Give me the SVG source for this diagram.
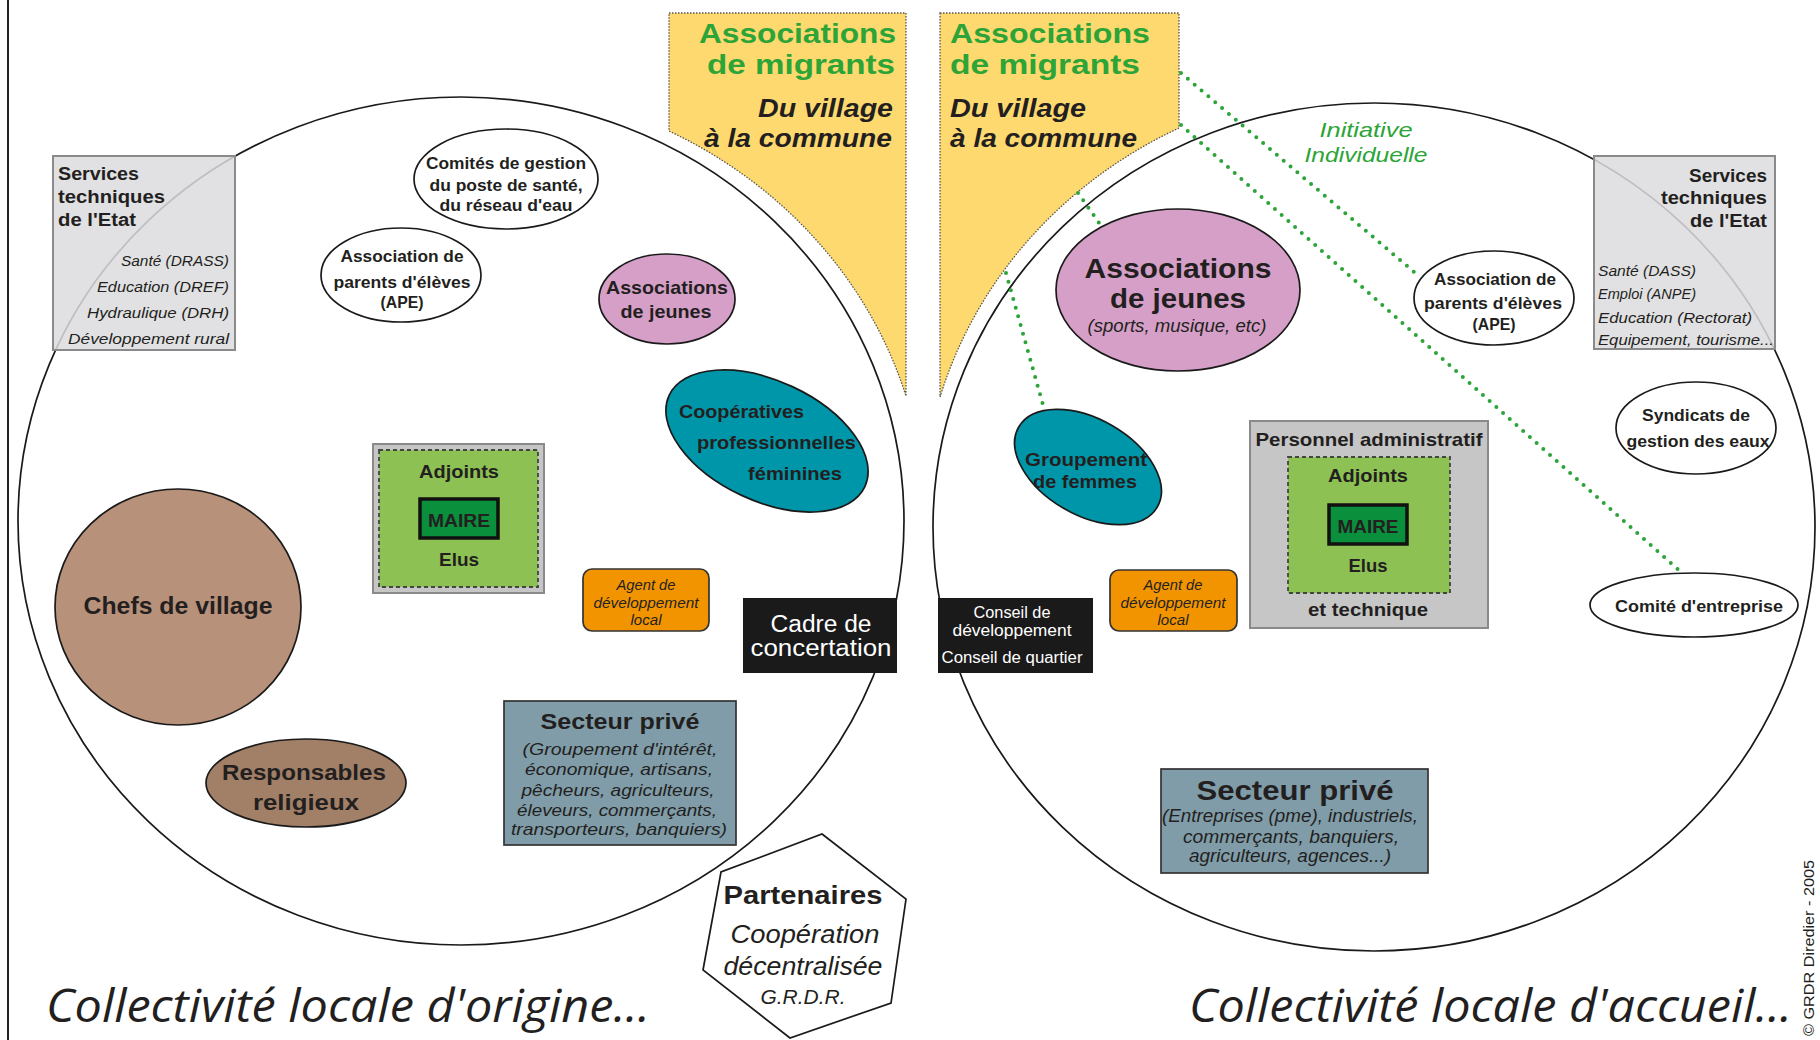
<svg xmlns="http://www.w3.org/2000/svg" width="1820" height="1040" viewBox="0 0 1820 1040">
<style>
text { font-family: "Liberation Sans", Arial, sans-serif; fill: #231f20; }
.b { font-weight: bold; }
.i { font-style: italic; }
.m { text-anchor: middle; }
.e { text-anchor: end; }
.w { fill: #ffffff; }
.g { fill: #2ca437; }
.big { font-family: "Open Sans", "Liberation Sans", sans-serif; font-style: italic; font-size: 46px; fill: #231f20; }
.outline { fill: none; stroke: #1a1a1a; stroke-width: 1.7; }
.nd { stroke: #1a1a1a; stroke-width: 1.7; }
.wh { fill: #ffffff; }
.pink { fill: #d59fc7; }
.teal { fill: #0096a9; }
.chef { fill: #b8917a; }
.resp { fill: #a18067; }
.priv { fill: #7f9ca8; stroke: #333; stroke-width: 1.7; }
.agent { fill: #f29400; stroke: #333; stroke-width: 1.7; }
.blk { fill: #1b1a1a; }
.svc { fill: #dcdcde; fill-opacity: 0.85; stroke: #8a8a8a; stroke-width: 2; }
.yel { fill: #fdd96f; stroke: #555; stroke-width: 1.3; stroke-dasharray: 1.5 1.5; }
.gray { fill: #c6c6c7; stroke: #8a8a8a; stroke-width: 2; }
.lg { fill: #8dc153; stroke: #444; stroke-width: 1.8; stroke-dasharray: 4 3; }
.maire { fill: #0a8f3c; stroke: #111; stroke-width: 3.5; }
.dot { fill: none; stroke: #2ca43a; stroke-width: 4; stroke-linecap: round; stroke-dasharray: 0 9; }
</style>

<line x1="8" y1="0" x2="8" y2="1040" stroke="#222" stroke-width="2"/>

<g id="circles">
  <ellipse id="circle-origine" class="outline" cx="461" cy="521" rx="443" ry="424"/>
  <ellipse id="circle-accueil" class="outline" cx="1374" cy="527" rx="441" ry="424"/>
</g>

<g id="migrants-left">
  <path class="yel" d="M669,13 H906 V396 A465,436 0 0 0 669,131 Z"/>
  <text class="b g e" x="896" y="43" font-size="28" textLength="197" lengthAdjust="spacingAndGlyphs">Associations</text>
  <text class="b g e" x="895" y="74" font-size="28" textLength="188" lengthAdjust="spacingAndGlyphs">de migrants</text>
  <text class="b i e" x="893" y="117" font-size="26" textLength="135" lengthAdjust="spacingAndGlyphs">Du village</text>
  <text class="b i e" x="892" y="147" font-size="26" textLength="188" lengthAdjust="spacingAndGlyphs">à la commune</text>
</g>

<g id="migrants-right">
  <path class="yel" d="M940,13 H1179 V128 A460,436 0 0 0 940,397 Z"/>
  <text class="b g" x="950" y="43" font-size="28" textLength="200" lengthAdjust="spacingAndGlyphs">Associations</text>
  <text class="b g" x="950" y="74" font-size="28" textLength="190" lengthAdjust="spacingAndGlyphs">de migrants</text>
  <text class="b i" x="950" y="117" font-size="26" textLength="136" lengthAdjust="spacingAndGlyphs">Du village</text>
  <text class="b i" x="950" y="147" font-size="26" textLength="187" lengthAdjust="spacingAndGlyphs">à la commune</text>
</g>

<g id="connectors">
  <line class="dot" x1="1181" y1="73" x2="1420" y2="277"/>
  <line class="dot" x1="1181" y1="125" x2="1681" y2="572"/>
  <line class="dot" x1="1078" y1="193" x2="1102" y2="227"/>
  <line class="dot" x1="1006" y1="273" x2="1045" y2="412"/>
</g>

<g id="initiative">
  <text class="i g m" x="1366" y="137" font-size="21" textLength="93" lengthAdjust="spacingAndGlyphs">Initiative</text>
  <text class="i g m" x="1366" y="162" font-size="21" textLength="123" lengthAdjust="spacingAndGlyphs">Individuelle</text>
</g>

<g id="services-left">
  <rect class="svc" x="53" y="156" width="182" height="194"/>
  <text class="b" x="58" y="180" font-size="18" textLength="81" lengthAdjust="spacingAndGlyphs">Services</text>
  <text class="b" x="58" y="203" font-size="18" textLength="107" lengthAdjust="spacingAndGlyphs">techniques</text>
  <text class="b" x="58" y="226" font-size="18" textLength="78" lengthAdjust="spacingAndGlyphs">de l'Etat</text>
  <text class="i e" x="229" y="266" font-size="15" textLength="108" lengthAdjust="spacingAndGlyphs">Santé (DRASS)</text>
  <text class="i e" x="229" y="292" font-size="15" textLength="132" lengthAdjust="spacingAndGlyphs">Education (DREF)</text>
  <text class="i e" x="229" y="318" font-size="15" textLength="142" lengthAdjust="spacingAndGlyphs">Hydraulique (DRH)</text>
  <text class="i e" x="229" y="344" font-size="15" textLength="161" lengthAdjust="spacingAndGlyphs">Développement rural</text>
</g>

<g id="comites">
  <ellipse class="nd wh" cx="506" cy="179" rx="92" ry="50"/>
  <text class="b m" x="506" y="169" font-size="17" textLength="160" lengthAdjust="spacingAndGlyphs">Comités de gestion</text>
  <text class="b m" x="506" y="191" font-size="17" textLength="153" lengthAdjust="spacingAndGlyphs">du poste de santé,</text>
  <text class="b m" x="506" y="211" font-size="17" textLength="133" lengthAdjust="spacingAndGlyphs">du réseau d'eau</text>
</g>

<g id="ape-left">
  <ellipse class="nd wh" cx="401" cy="275" rx="80" ry="47"/>
  <text class="b m" x="402" y="262" font-size="17" textLength="123" lengthAdjust="spacingAndGlyphs">Association de</text>
  <text class="b m" x="402" y="288" font-size="17" textLength="137" lengthAdjust="spacingAndGlyphs">parents d'élèves</text>
  <text class="b m" x="402" y="308" font-size="17" textLength="43" lengthAdjust="spacingAndGlyphs">(APE)</text>
</g>

<g id="jeunes-left">
  <ellipse class="nd pink" cx="667" cy="299" rx="68" ry="45"/>
  <text class="b m" x="667" y="294" font-size="19" textLength="122" lengthAdjust="spacingAndGlyphs">Associations</text>
  <text class="b m" x="666" y="318" font-size="19" textLength="91" lengthAdjust="spacingAndGlyphs">de jeunes</text>
</g>

<g id="cooperatives">
  <ellipse class="nd teal" cx="767" cy="441" rx="108" ry="60" transform="rotate(25 767 441)"/>
  <text class="b" x="679" y="418" font-size="19" textLength="125" lengthAdjust="spacingAndGlyphs">Coopératives</text>
  <text class="b" x="697" y="449" font-size="19" textLength="159" lengthAdjust="spacingAndGlyphs">professionnelles</text>
  <text class="b" x="748" y="480" font-size="19" textLength="94" lengthAdjust="spacingAndGlyphs">féminines</text>
</g>

<g id="mairie-left">
  <rect class="gray" x="373" y="444" width="171" height="149"/>
  <rect class="lg" x="379" y="450" width="159" height="137"/>
  <text class="b m" x="459" y="478" font-size="19" textLength="80" lengthAdjust="spacingAndGlyphs">Adjoints</text>
  <rect class="maire" x="420" y="499" width="78" height="39"/>
  <text class="b m" x="459" y="527" font-size="19" textLength="62" lengthAdjust="spacingAndGlyphs">MAIRE</text>
  <text class="b m" x="459" y="566" font-size="19" textLength="40" lengthAdjust="spacingAndGlyphs">Elus</text>
</g>

<g id="chefs">
  <ellipse class="nd chef" cx="178" cy="607" rx="123" ry="118"/>
  <text class="b m" x="178" y="614" font-size="24" textLength="189" lengthAdjust="spacingAndGlyphs">Chefs de village</text>
</g>

<g id="responsables">
  <ellipse class="nd resp" cx="306" cy="783" rx="100" ry="44"/>
  <text class="b m" x="304" y="780" font-size="22" textLength="164" lengthAdjust="spacingAndGlyphs">Responsables</text>
  <text class="b m" x="306" y="810" font-size="22" textLength="106" lengthAdjust="spacingAndGlyphs">religieux</text>
</g>

<g id="prive-left">
  <rect class="priv" x="504" y="701" width="232" height="144"/>
  <text class="b m" x="620" y="729" font-size="22" textLength="159" lengthAdjust="spacingAndGlyphs">Secteur privé</text>
  <text class="i m" x="620" y="755" font-size="17" textLength="195" lengthAdjust="spacingAndGlyphs">(Groupement d'intérêt,</text>
  <text class="i m" x="619" y="775" font-size="17" textLength="188" lengthAdjust="spacingAndGlyphs">économique, artisans,</text>
  <text class="i m" x="618" y="796" font-size="17" textLength="193" lengthAdjust="spacingAndGlyphs">pêcheurs, agriculteurs,</text>
  <text class="i m" x="617" y="816" font-size="17" textLength="200" lengthAdjust="spacingAndGlyphs">éleveurs, commerçants,</text>
  <text class="i m" x="619" y="835" font-size="17" textLength="216" lengthAdjust="spacingAndGlyphs">transporteurs, banquiers)</text>
</g>

<g id="agent-left">
  <rect class="agent" x="583" y="569" width="126" height="62" rx="9"/>
  <text class="i m" x="646" y="590" font-size="15" textLength="59" lengthAdjust="spacingAndGlyphs">Agent de</text>
  <text class="i m" x="646" y="608" font-size="15" textLength="105" lengthAdjust="spacingAndGlyphs">développement</text>
  <text class="i m" x="646" y="625" font-size="15" textLength="31" lengthAdjust="spacingAndGlyphs">local</text>
</g>

<g id="cadre">
  <rect class="blk" x="743" y="598" width="154" height="75"/>
  <text class="w m" x="821" y="632" font-size="23" textLength="101" lengthAdjust="spacingAndGlyphs">Cadre de</text>
  <text class="w m" x="821" y="656" font-size="23" textLength="141" lengthAdjust="spacingAndGlyphs">concertation</text>
</g>

<g id="partenaires">
  <polygon points="822,834 906,899 891,1003 790,1038 703,970 721,872" fill="#ffffff" stroke="#1a1a1a" stroke-width="1.7"/>
  <text class="b m" x="803" y="904" font-size="26" textLength="159" lengthAdjust="spacingAndGlyphs">Partenaires</text>
  <text class="i m" x="805" y="943" font-size="25" textLength="149" lengthAdjust="spacingAndGlyphs" font-family="Open Sans, Liberation Sans, sans-serif">Coopération</text>
  <text class="i m" x="803" y="975" font-size="25" textLength="159" lengthAdjust="spacingAndGlyphs" font-family="Open Sans, Liberation Sans, sans-serif">décentralisée</text>
  <text class="i m" x="803" y="1004" font-size="21" textLength="85" lengthAdjust="spacingAndGlyphs" font-family="Open Sans, Liberation Sans, sans-serif">G.R.D.R.</text>
</g>

<g id="jeunes-right">
  <ellipse class="nd pink" cx="1178" cy="290" rx="122" ry="81"/>
  <text class="b m" x="1178" y="278" font-size="28" textLength="187" lengthAdjust="spacingAndGlyphs">Associations</text>
  <text class="b m" x="1178" y="308" font-size="28" textLength="136" lengthAdjust="spacingAndGlyphs">de jeunes</text>
  <text class="i m" x="1177" y="332" font-size="18" textLength="179" lengthAdjust="spacingAndGlyphs">(sports, musique, etc)</text>
</g>

<g id="ape-right">
  <ellipse class="nd wh" cx="1494" cy="298" rx="80" ry="47"/>
  <text class="b m" x="1495" y="285" font-size="17" textLength="122" lengthAdjust="spacingAndGlyphs">Association de</text>
  <text class="b m" x="1493" y="309" font-size="17" textLength="138" lengthAdjust="spacingAndGlyphs">parents d'élèves</text>
  <text class="b m" x="1494" y="330" font-size="17" textLength="43" lengthAdjust="spacingAndGlyphs">(APE)</text>
</g>

<g id="services-right">
  <rect class="svc" x="1594" y="156" width="181" height="193"/>
  <text class="b e" x="1767" y="182" font-size="18" textLength="78" lengthAdjust="spacingAndGlyphs">Services</text>
  <text class="b e" x="1767" y="204" font-size="18" textLength="106" lengthAdjust="spacingAndGlyphs">techniques</text>
  <text class="b e" x="1767" y="227" font-size="18" textLength="77" lengthAdjust="spacingAndGlyphs">de l'Etat</text>
  <text class="i" x="1598" y="276" font-size="15" textLength="98" lengthAdjust="spacingAndGlyphs">Santé (DASS)</text>
  <text class="i" x="1598" y="299" font-size="15" textLength="98" lengthAdjust="spacingAndGlyphs">Emploi (ANPE)</text>
  <text class="i" x="1598" y="323" font-size="15" textLength="154" lengthAdjust="spacingAndGlyphs">Education (Rectorat)</text>
  <text class="i" x="1598" y="345" font-size="15" textLength="176" lengthAdjust="spacingAndGlyphs">Equipement, tourisme...</text>
</g>

<g id="syndicats">
  <ellipse class="nd wh" cx="1696" cy="428" rx="80" ry="46"/>
  <text class="b m" x="1696" y="421" font-size="17" textLength="108" lengthAdjust="spacingAndGlyphs">Syndicats de</text>
  <text class="b m" x="1698" y="447" font-size="17" textLength="143" lengthAdjust="spacingAndGlyphs">gestion des eaux</text>
</g>

<g id="comite-entreprise">
  <ellipse class="nd wh" cx="1694" cy="605" rx="104" ry="32"/>
  <text class="b m" x="1699" y="612" font-size="17" textLength="168" lengthAdjust="spacingAndGlyphs">Comité d'entreprise</text>
</g>

<g id="groupement">
  <ellipse class="nd teal" cx="1088" cy="467" rx="80" ry="48" transform="rotate(30 1088 467)"/>
  <text class="b m" x="1086" y="466" font-size="19" textLength="122" lengthAdjust="spacingAndGlyphs">Groupement</text>
  <text class="b m" x="1085" y="488" font-size="19" textLength="104" lengthAdjust="spacingAndGlyphs">de femmes</text>
</g>

<g id="mairie-right">
  <rect class="gray" x="1250" y="421" width="238" height="207"/>
  <text class="b m" x="1369" y="446" font-size="19" textLength="227" lengthAdjust="spacingAndGlyphs">Personnel administratif</text>
  <rect class="lg" x="1288" y="457" width="162" height="136"/>
  <text class="b m" x="1368" y="482" font-size="19" textLength="80" lengthAdjust="spacingAndGlyphs">Adjoints</text>
  <rect class="maire" x="1329" y="505" width="78" height="39"/>
  <text class="b m" x="1368" y="533" font-size="19" textLength="61" lengthAdjust="spacingAndGlyphs">MAIRE</text>
  <text class="b m" x="1368" y="572" font-size="19" textLength="39" lengthAdjust="spacingAndGlyphs">Elus</text>
  <text class="b m" x="1368" y="616" font-size="19" textLength="120" lengthAdjust="spacingAndGlyphs">et technique</text>
</g>

<g id="agent-right">
  <rect class="agent" x="1110" y="570" width="127" height="61" rx="9"/>
  <text class="i m" x="1173" y="590" font-size="15" textLength="59" lengthAdjust="spacingAndGlyphs">Agent de</text>
  <text class="i m" x="1173" y="608" font-size="15" textLength="105" lengthAdjust="spacingAndGlyphs">développement</text>
  <text class="i m" x="1173" y="625" font-size="15" textLength="31" lengthAdjust="spacingAndGlyphs">local</text>
</g>

<g id="conseil">
  <rect class="blk" x="938" y="598" width="155" height="75"/>
  <text class="w m" x="1012" y="618" font-size="16" textLength="77" lengthAdjust="spacingAndGlyphs">Conseil de</text>
  <text class="w m" x="1012" y="636" font-size="16" textLength="119" lengthAdjust="spacingAndGlyphs">développement</text>
  <text class="w m" x="1012" y="663" font-size="16" textLength="141" lengthAdjust="spacingAndGlyphs">Conseil de quartier</text>
</g>

<g id="prive-right">
  <rect class="priv" x="1161" y="769" width="267" height="104"/>
  <text class="b m" x="1295" y="800" font-size="28" textLength="197" lengthAdjust="spacingAndGlyphs">Secteur privé</text>
  <text class="i m" x="1290" y="822" font-size="19" textLength="256" lengthAdjust="spacingAndGlyphs">(Entreprises (pme), industriels,</text>
  <text class="i m" x="1291" y="843" font-size="19" textLength="216" lengthAdjust="spacingAndGlyphs">commerçants, banquiers,</text>
  <text class="i m" x="1290" y="862" font-size="19" textLength="202" lengthAdjust="spacingAndGlyphs">agriculteurs, agences...)</text>
</g>

<g id="titles">
  <text class="big" x="46" y="1022" textLength="604" lengthAdjust="spacingAndGlyphs">Collectivité locale d'origine...</text>
  <text class="big" x="1189" y="1022" textLength="603" lengthAdjust="spacingAndGlyphs">Collectivité locale d'accueil...</text>
  <text transform="translate(1814,1036) rotate(-90)" font-size="15" fill="#444" textLength="176" lengthAdjust="spacingAndGlyphs">© GRDR Diredier - 2005</text>
</g>
</svg>
